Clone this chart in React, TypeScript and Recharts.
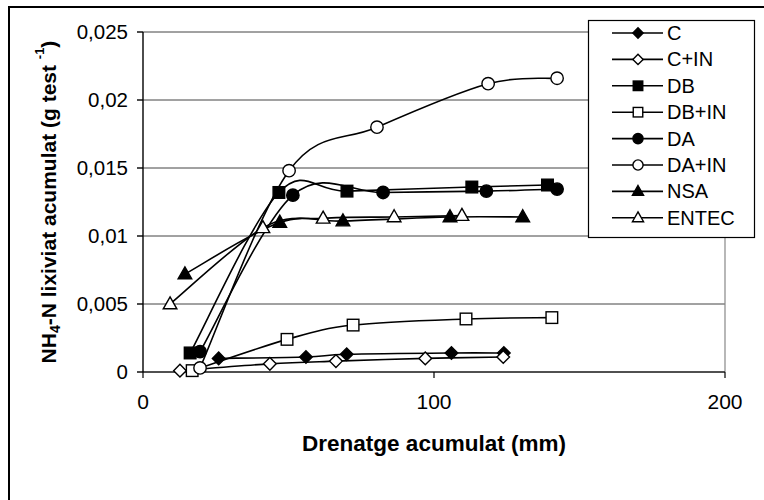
import React from 'react';
import { LineChart, Line, XAxis, YAxis, CartesianGrid, ReferenceLine } from 'recharts';

type Pt = { x: number; y: number };

// Cumulative drainage (mm) and cumulative leached NH4-N (g per pot) per treatment
const cData: Pt[] = [
  { x: 26, y: 0.001 }, { x: 56, y: 0.0011 }, { x: 70, y: 0.0013 }, { x: 106, y: 0.0014 }, { x: 124, y: 0.0014 },
];
const cInData: Pt[] = [
  { x: 12.7, y: 0.0001 }, { x: 43.6, y: 0.0006 }, { x: 66.3, y: 0.0008 }, { x: 97, y: 0.001 }, { x: 123.8, y: 0.0011 },
];
const dbData: Pt[] = [
  { x: 16.2, y: 0.0014 }, { x: 46.7, y: 0.0132 }, { x: 70.1, y: 0.0133 }, { x: 113, y: 0.0136 }, { x: 139, y: 0.01375 },
];
const dbInData: Pt[] = [
  { x: 16.9, y: 0.0001 }, { x: 49.5, y: 0.0024 }, { x: 72.2, y: 0.00345 }, { x: 111, y: 0.0039 }, { x: 140.5, y: 0.004 },
];
const daData: Pt[] = [
  { x: 19.6, y: 0.0015 }, { x: 51.5, y: 0.013 }, { x: 82.5, y: 0.0132 }, { x: 118, y: 0.0133 }, { x: 142.3, y: 0.01345 },
];
const daInData: Pt[] = [
  { x: 19.6, y: 0.0003 }, { x: 50.2, y: 0.0148 }, { x: 80.4, y: 0.018 }, { x: 118.6, y: 0.0212 }, { x: 142.3, y: 0.0216 },
];
const nsaData: Pt[] = [
  { x: 14.4, y: 0.0072 }, { x: 47, y: 0.011 }, { x: 68.7, y: 0.0111 }, { x: 105.5, y: 0.0114 }, { x: 130.5, y: 0.0114 },
];
const entecData: Pt[] = [
  { x: 9.3, y: 0.005 }, { x: 41.2, y: 0.0106 }, { x: 61.9, y: 0.0113 }, { x: 86.3, y: 0.0114 }, { x: 109.6, y: 0.0115 },
];

const xTicks = [0, 100, 200];
const yTicks = [0, 0.005, 0.01, 0.015, 0.02, 0.025];

type Shape = 'diamond' | 'square' | 'circle' | 'triangle';

const seriesList: { name: string; data: Pt[]; shape: Shape; filled: boolean }[] = [
  { name: 'C', data: cData, shape: 'diamond', filled: true },
  { name: 'C+IN', data: cInData, shape: 'diamond', filled: false },
  { name: 'DB', data: dbData, shape: 'square', filled: true },
  { name: 'DB+IN', data: dbInData, shape: 'square', filled: false },
  { name: 'DA', data: daData, shape: 'circle', filled: true },
  { name: 'DA+IN', data: daInData, shape: 'circle', filled: false },
  { name: 'NSA', data: nsaData, shape: 'triangle', filled: true },
  { name: 'ENTEC', data: entecData, shape: 'triangle', filled: false },
];

const FONT = '"Liberation Sans", Arial, sans-serif';

// Smoothed line through every point (cubic Bezier, Catmull-Rom style tangents)
function smoothCurve(context: any) {
  let pts: [number, number][] = [];
  return {
    areaStart() {},
    areaEnd() {},
    lineStart() {
      pts = [];
    },
    lineEnd() {
      const n = pts.length;
      if (!n) return;
      context.moveTo(pts[0][0], pts[0][1]);
      const t = 1 / 6;
      for (let i = 0; i < n - 1; i++) {
        const p0 = pts[Math.max(0, i - 1)];
        const p1 = pts[i];
        const p2 = pts[i + 1];
        const p3 = pts[Math.min(n - 1, i + 2)];
        context.bezierCurveTo(
          p1[0] + (p2[0] - p0[0]) * t,
          p1[1] + (p2[1] - p0[1]) * t,
          p2[0] - (p3[0] - p1[0]) * t,
          p2[1] - (p3[1] - p1[1]) * t,
          p2[0],
          p2[1]
        );
      }
    },
    point(x: number, y: number) {
      pts.push([+x, +y]);
    },
  };
}

function marker(shape: Shape, filled: boolean, cx: number, cy: number, s: number, key?: string) {
  const fill = filled ? '#000' : '#fff';
  const common = { fill, stroke: '#000', strokeWidth: 1.4 };
  if (shape === 'diamond') {
    const r = 6.3 * s;
    return <polygon key={key} points={`${cx},${cy - r} ${cx + r},${cy} ${cx},${cy + r} ${cx - r},${cy}`} {...common} />;
  }
  if (shape === 'square') {
    const r = 5.8 * s;
    return <rect key={key} x={cx - r} y={cy - r} width={2 * r} height={2 * r} {...common} />;
  }
  if (shape === 'circle') {
    return <circle key={key} cx={cx} cy={cy} r={6.2 * s} {...common} />;
  }
  const w = 6.8 * s;
  const h = 12 * s;
  return (
    <polygon
      key={key}
      points={`${cx},${cy - h * 0.6} ${cx + w},${cy + h * 0.4} ${cx - w},${cy + h * 0.4}`}
      {...common}
    />
  );
}

const fmt = (v: number) => String(v).replace('.', ',');

const YTitle = (props: any) => {
  const vb = props.viewBox || {};
  const cy = (vb.y ?? 0) + (vb.height ?? 0) / 2;
  const cx = 48;
  return (
    <text
      x={cx}
      y={cy}
      transform={`rotate(-90, ${cx}, ${cy})`}
      textAnchor="middle"
      dominantBaseline="central"
      fontFamily={FONT}
      fontWeight="bold"
      fontSize={21}
      fill="#000"
    >
      NH
      <tspan fontSize={14} dy={7}>4</tspan>
      <tspan dy={-7}>-N lixiviat acumulat (g test </tspan>
      <tspan fontSize={13} dy={-9}>-1</tspan>
      <tspan dy={9}>)</tspan>
    </text>
  );
};

const Legend8 = () => {
  const rowY0 = 33;
  const step = 26.4;
  return (
    <svg width={764} height={500} style={{ position: 'absolute', left: 0, top: 0, pointerEvents: 'none' }}>
      <rect x={588.5} y={20.5} width={166} height={217} fill="#fff" stroke="#000" strokeWidth={1.2} />
      {seriesList.map((s, i) => {
        const y = rowY0 + i * step;
        return (
          <g key={s.name}>
            <line x1={612} x2={663} y1={y} y2={y} stroke="#000" strokeWidth={1.6} />
            {marker(s.shape, s.filled, 638, y, 0.82)}
            <text x={667} y={y} dominantBaseline="central" fontFamily={FONT} fontSize={20} fill="#000">
              {s.name}
            </text>
          </g>
        );
      })}
    </svg>
  );
};

export default function App() {
  return (
    <div style={{ position: 'absolute', left: 0, top: 0, width: 764, height: 500, background: '#fff', overflow: 'hidden' }}>
      <div
        style={{
          position: 'absolute',
          left: 8,
          top: 6,
          width: 756,
          height: 494,
          borderLeft: '2px solid #000',
          borderTop: '2px solid #000',
          boxSizing: 'border-box',
        }}
      />
      <LineChart
        width={764}
        height={500}
        margin={{ top: 32, right: 39, bottom: 98, left: 63 }}
        style={{ position: 'absolute', left: 0, top: 0 }}
      >
        <CartesianGrid horizontal vertical={false} stroke="#444" strokeWidth={1} />
        <ReferenceLine x={200} stroke="#888" strokeWidth={1.2} ifOverflow="visible" />
        <XAxis
          type="number"
          dataKey="x"
          domain={[0, 200]}
          ticks={xTicks}
          allowDataOverflow
          tick={{ fontSize: 21, fill: '#000', fontFamily: FONT }}
          tickSize={6}
          tickMargin={16}
          stroke="#000"
          strokeWidth={1.2}
          height={30}
          label={{
            value: 'Drenatge acumulat (mm)',
            position: 'insideBottom',
            offset: -49,
            style: { fontSize: 22.5, fontWeight: 'bold', fill: '#000', fontFamily: FONT },
          }}
        />
        <YAxis
          type="number"
          dataKey="y"
          domain={[0, 0.025]}
          ticks={yTicks}
          tickFormatter={fmt}
          tick={{ fontSize: 20.5, fill: '#000', fontFamily: FONT }}
          tickSize={6}
          tickMargin={9}
          stroke="#000"
          strokeWidth={1.4}
          width={80}
          label={<YTitle />}
        />
        {seriesList.map((s) => (
          <Line
            key={s.name}
            data={s.data}
            dataKey="y"
            name={s.name}
            type={smoothCurve as any}
            stroke="#000"
            strokeWidth={1.6}
            isAnimationActive={false}
            dot={(p: any) => marker(s.shape, s.filled, p.cx, p.cy, 1, `${s.name}-${p.index}`)}
            activeDot={false}
          />
        ))}
      </LineChart>
      <Legend8 />
    </div>
  );
}
